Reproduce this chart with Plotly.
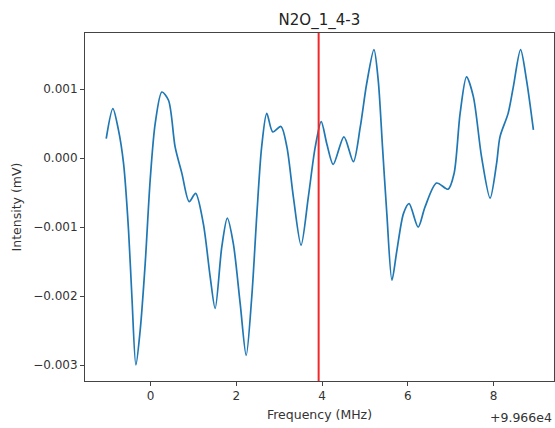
import plotly.graph_objects as go

# Frequency offset from 9.966e4 MHz
freq_offset = [-1.035, -0.88, -0.75, -0.63, -0.515, -0.436, -0.343, -0.242, -0.126, -0.01,
               0.107, 0.263, 0.418, 0.573, 0.73, 0.90, 1.05, 1.23, 1.39, 1.506,
               1.66, 1.79, 1.93, 2.09, 2.23, 2.36, 2.48, 2.59, 2.71, 2.85,
               3.04, 3.18, 3.33, 3.51, 3.68, 3.84, 3.98, 4.11, 4.26, 4.51,
               4.73, 4.89, 5.04, 5.21, 5.31, 5.41, 5.51, 5.63, 5.74, 5.90,
               6.03, 6.24, 6.40, 6.67, 6.94, 7.08, 7.22, 7.37, 7.53, 7.72,
               7.92, 8.07, 8.15, 8.34, 8.46, 8.63, 8.77, 8.93]
intensity = [0.285, 0.72, 0.41, -0.08, -1.04, -2.01, -3.0, -2.49, -1.53, -0.32,
             0.50, 0.96, 0.84, 0.16, -0.22, -0.63, -0.51, -0.95, -1.72, -2.18,
             -1.29, -0.87, -1.24, -2.11, -2.86, -2.01, -0.80, 0.16, 0.65, 0.38,
             0.46, 0.16, -0.56, -1.26, -0.56, 0.16, 0.53, 0.21, -0.09, 0.31,
             -0.05, 0.45, 1.08, 1.575, 1.13, 0.16, -0.80, -1.77, -1.36, -0.80,
             -0.66, -1.0, -0.71, -0.36, -0.45, -0.22, 0.65, 1.18, 0.89, 0.02,
             -0.58, -0.08, 0.31, 0.65, 1.03, 1.575, 1.13, 0.41]
intensity = [v * 1e-3 for v in intensity]

marker_freq = 3.92
x_tick_vals = [0, 2, 4, 6, 8]
x_tick_text = ["0", "2", "4", "6", "8"]
y_tick_vals = [0.001, 0.0, -0.001, -0.002, -0.003]
y_tick_text = ["0.001", "0.000", "\u22120.001", "\u22120.002", "\u22120.003"]
title_text = "N2O_1_4-3"
x_label = "Frequency (MHz)"
y_label = "Intensity (mV)"
offset_text = "+9.966e4"

font_family = "DejaVu Sans"
axis_color = "#444444"

fig = go.Figure()
fig.add_trace(go.Scatter(
    x=freq_offset, y=intensity, mode="lines",
    line=dict(color="#1f77b4", width=1.7, shape="spline", smoothing=0.8),
    showlegend=False, hoverinfo="skip"))

fig.add_shape(type="line", xref="x", yref="paper", x0=marker_freq, x1=marker_freq,
              y0=0, y1=1, line=dict(color="#f02828", width=2))

fig.update_layout(
    width=555, height=428,
    margin=dict(l=85, r=1, t=33, b=47),
    paper_bgcolor="white", plot_bgcolor="white",
    font=dict(family=font_family, size=12, color="#333333"),
    title=dict(text=title_text, x=0.5755, xanchor="center", y=0.955, yanchor="middle",
               font=dict(size=15, color="#222222")),
    xaxis=dict(range=[-1.53, 9.41], tickvals=x_tick_vals, ticktext=x_tick_text,
               showgrid=False, zeroline=False, showline=True, linecolor=axis_color,
               linewidth=1, mirror=True, ticks="outside", ticklen=4, tickcolor=axis_color,
               tickfont=dict(size=12),
               title=dict(text=x_label, standoff=7, font=dict(size=12.5))),
    yaxis=dict(range=[-3.232e-3, 1.816e-3], tickvals=y_tick_vals, ticktext=y_tick_text,
               showgrid=False, zeroline=False, showline=True, linecolor=axis_color,
               linewidth=1, mirror=True, ticks="outside", ticklen=4, tickcolor=axis_color,
               tickfont=dict(size=12),
               title=dict(text=y_label, standoff=8, font=dict(size=12.5))),
    annotations=[dict(text=offset_text, xref="paper", yref="paper", x=1.0, y=-0.106,
                      xanchor="right", yanchor="middle", showarrow=False,
                      font=dict(size=12.5, color="#333333"))],
)

fig.write_html("out.html")
